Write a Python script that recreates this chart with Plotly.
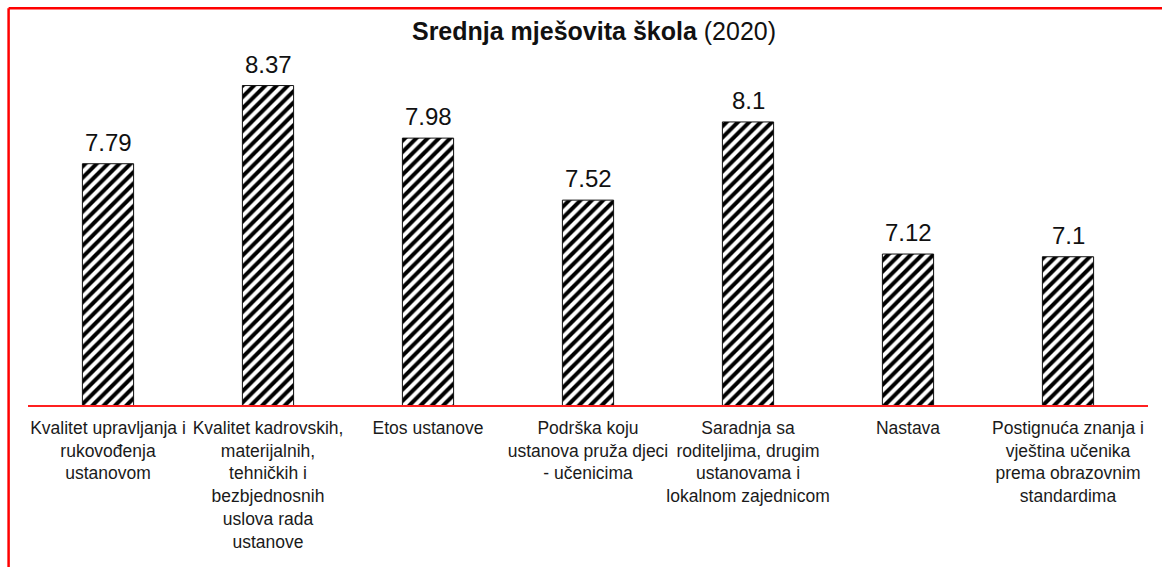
import plotly.graph_objects as go

# ---- data ----
categories = [
    "Kvalitet upravljanja i rukovođenja ustanovom",
    "Kvalitet kadrovskih, materijalnih, tehničkih i bezbjednosnih uslova rada ustanove",
    "Etos ustanove",
    "Podrška koju ustanova pruža djeci - učenicima",
    "Saradnja sa roditeljima, drugim ustanovama i lokalnom zajednicom",
    "Nastava",
    "Postignuća znanja i vještina učenika prema obrazovnim standardima",
]
tick_labels = [
    "Kvalitet upravljanja i<br>rukovođenja<br>ustanovom",
    "Kvalitet kadrovskih,<br>materijalnih,<br>tehničkih i<br>bezbjednosnih<br>uslova rada<br>ustanove",
    "Etos ustanove",
    "Podrška koju<br>ustanova pruža djeci<br>- učenicima",
    "Saradnja sa<br>roditeljima, drugim<br>ustanovama i<br>lokalnom zajednicom",
    "Nastava",
    "Postignuća znanja i<br>vještina učenika<br>prema obrazovnim<br>standardima",
]
values = [7.79, 8.37, 7.98, 7.52, 8.1, 7.12, 7.1]
value_labels = ["7.79", "8.37", "7.98", "7.52", "8.1", "7.12", "7.1"]
title_bold = "Srednja mješovita škola"
title_rest = " (2020)"
y_min, y_max = 6, 8.708

# ---- layout geometry ----
W, H = 1162, 567
ML, MR, MT, MB = 28, 14, 40, 162
PW, PH = W - ML - MR, H - MT - MB

FONT = "Liberation Sans, Arial, sans-serif"

fig = go.Figure(
    go.Bar(
        x=categories,
        y=values,
        cliponaxis=False,
        width=0.32,
        marker=dict(
            color="white",
            line=dict(color="#111111", width=1),
            pattern=dict(shape="/", fgcolor="#000000", bgcolor="white",
                         fgopacity=1, size=8, solidity=0.5),
        ),
        hoverinfo="skip",
    )
)

# value labels above the bars
for c, v, t in zip(categories, values, value_labels):
    fig.add_annotation(x=c, y=v, text=t, showarrow=False,
                       xanchor="center", yanchor="bottom", yshift=6,
                       font=dict(family=FONT, size=24, color="#111111"))

# red frame (top and left edges)
fx = (8.6 - ML) / PW
fy = 1 + (MT - 8.3) / PH
fig.add_shape(type="line", xref="paper", yref="paper",
              x0=fx, x1=(W - ML + 5) / PW, y0=fy, y1=fy,
              line=dict(color="#ff0000", width=2.5))
fig.add_shape(type="line", xref="paper", yref="paper",
              x0=fx, x1=fx, y0=fy, y1=-(MB + 5) / PH,
              line=dict(color="#ff0000", width=2.5))

fig.update_layout(
    width=W, height=H,
    margin=dict(l=ML, r=MR, t=MT, b=MB, pad=0, autoexpand=False),
    paper_bgcolor="white", plot_bgcolor="white",
    showlegend=False,
    font=dict(family=FONT, color="#1a1a1a"),
    title=dict(
        text=f"<b>{title_bold}</b>{title_rest}",
        font=dict(family=FONT, size=25, color="#111111"),
        x=594 / W, xanchor="center", xref="container",
        y=1 - 31 / H, yanchor="middle", yref="container",
    ),
    xaxis=dict(
        tickmode="array", tickvals=categories, ticktext=tick_labels,
        tickfont=dict(family=FONT, size=17.5, color="#1a1a1a"),
        tickangle=0, automargin=False,
        showline=True, linecolor="#ff2020", linewidth=1.5,
        showgrid=False, zeroline=False, ticks="",
        ticklabelstandoff=6,
    ),
    yaxis=dict(
        range=[y_min, y_max], visible=False, showgrid=False, zeroline=False,
    ),
)

fig.write_html(
    "out.html",
    config={"displayModeBar": False},
    post_script="document.body.style.margin='0px';document.body.style.padding='0px';",
)
